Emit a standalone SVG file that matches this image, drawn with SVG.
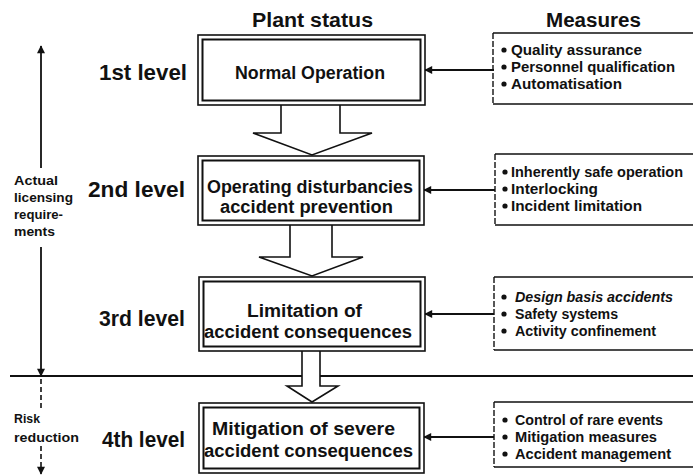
<svg xmlns="http://www.w3.org/2000/svg" width="693" height="476" viewBox="0 0 693 476">
<defs>
<style>
text{font-family:"Liberation Sans",Arial,sans-serif;font-weight:bold;fill:#111}
.hd{font-size:20px}
.lv{font-size:22px}
.bx{font-size:17.5px}
.ms{font-size:14px}
.lf{font-size:13.5px}
.outer{fill:#fff;stroke:#111;stroke-width:1.6}
.inner{fill:none;stroke:#111;stroke-width:2}
.mbox{fill:none;stroke:#111;stroke-width:1.6}
.mleft{stroke:#111;stroke-width:1.4;stroke-dasharray:6 2}
.blk{fill:#fff;stroke:#111;stroke-width:1.6;stroke-linejoin:miter}
.ln{stroke:#111;stroke-width:1.8;fill:none}
.dash{stroke:#111;stroke-width:1.6;stroke-dasharray:5 3;fill:none}
.bul{fill:#111}
</style>
<marker id="ah" viewBox="0 0 10 10" refX="9" refY="5" markerWidth="9" markerHeight="8" markerUnits="userSpaceOnUse" orient="auto">
<path d="M0,0 L10,5 L0,10 Z" fill="#111"/>
</marker>
</defs>
<rect width="693" height="476" fill="#fff"/>

<g id="headers">
<text class="hd" x="252" y="27" textLength="121" lengthAdjust="spacingAndGlyphs">Plant status</text>
<text class="hd" x="546" y="27" textLength="95" lengthAdjust="spacingAndGlyphs">Measures</text>
</g>

<g id="levels">
<text class="lv" x="99" y="80" textLength="88" lengthAdjust="spacingAndGlyphs">1st level</text>
<text class="lv" x="88" y="197" textLength="97" lengthAdjust="spacingAndGlyphs">2nd level</text>
<text class="lv" x="99" y="326" textLength="86" lengthAdjust="spacingAndGlyphs">3rd level</text>
<text class="lv" x="102" y="447" textLength="83" lengthAdjust="spacingAndGlyphs">4th level</text>
</g>

<g id="connectors">
<line class="ln" x1="10" y1="376" x2="693" y2="376"/>
<!-- left vertical axis -->
<line class="ln" x1="41" y1="168" x2="41" y2="46" marker-end="url(#ah)"/>
<line class="ln" x1="41" y1="247" x2="41" y2="376" marker-end="url(#ah)"/>
<line class="dash" x1="41" y1="379" x2="41" y2="410"/>
<line class="dash" x1="41" y1="446" x2="41" y2="474" marker-end="url(#ah)"/>
<!-- measures to plant arrows -->
<line class="ln" x1="494" y1="70" x2="425" y2="70" marker-end="url(#ah)"/>
<line class="ln" x1="495" y1="190" x2="424" y2="190" marker-end="url(#ah)"/>
<line class="ln" x1="494" y1="314" x2="425" y2="314" marker-end="url(#ah)"/>
<line class="ln" x1="494" y1="437" x2="424" y2="437" marker-end="url(#ah)"/>
<!-- block arrows -->
<path class="blk" d="M281,105 V133 H253 L312,155 L372,133 H340 V105"/>
<path class="blk" d="M290,225 V257 H259 L312,276 L363,257 H332 V225"/>
<path class="blk" d="M302,351 V386 H287 L312,402 L338,386 H320 V351"/>
</g>

<g id="axis-labels">
<text class="lf" x="14" y="185" textLength="44" lengthAdjust="spacingAndGlyphs">Actual</text>
<text class="lf" x="14" y="202" textLength="59" lengthAdjust="spacingAndGlyphs">licensing</text>
<text class="lf" x="14" y="219" textLength="49" lengthAdjust="spacingAndGlyphs">require-</text>
<text class="lf" x="14" y="236" textLength="41" lengthAdjust="spacingAndGlyphs">ments</text>
<text class="lf" x="14" y="423" textLength="26" lengthAdjust="spacingAndGlyphs">Risk</text>
<text class="lf" x="14" y="442" textLength="65" lengthAdjust="spacingAndGlyphs">reduction</text>
</g>

<g id="plant1">
<rect class="outer" x="198" y="35" width="227" height="70"/>
<rect class="inner" x="202.5" y="39.5" width="218" height="61"/>
<text class="bx" x="235" y="79" textLength="150" lengthAdjust="spacingAndGlyphs">Normal Operation</text>
</g>
<g id="plant2">
<rect class="outer" x="198" y="156" width="226" height="69"/>
<rect class="inner" x="202.5" y="160.5" width="217" height="60"/>
<text class="bx" x="207" y="193" textLength="206" lengthAdjust="spacingAndGlyphs">Operating disturbancies</text>
<text class="bx" x="220" y="213" textLength="173" lengthAdjust="spacingAndGlyphs">accident prevention</text>
</g>
<g id="plant3">
<rect class="outer" x="199" y="277" width="226" height="74"/>
<rect class="inner" x="203.5" y="281.5" width="217" height="65"/>
<text class="bx" x="247" y="317" textLength="115" lengthAdjust="spacingAndGlyphs">Limitation of</text>
<text class="bx" x="204" y="338" textLength="208" lengthAdjust="spacingAndGlyphs">accident consequences</text>
</g>
<g id="plant4">
<rect class="outer" x="199" y="403" width="225" height="70"/>
<rect class="inner" x="203.5" y="407.5" width="216" height="61"/>
<text class="bx" x="212" y="435" textLength="183" lengthAdjust="spacingAndGlyphs">Mitigation of severe</text>
<text class="bx" x="204" y="457" textLength="209" lengthAdjust="spacingAndGlyphs">accident consequences</text>
</g>

<g id="measures1">
<path class="mbox" d="M493,33 H700 M493,104 H700"/>
<line class="mleft" x1="493" y1="33" x2="493" y2="104"/>
<circle class="bul" cx="504" cy="50" r="2.6"/>
<circle class="bul" cx="504" cy="67" r="2.6"/>
<circle class="bul" cx="504" cy="84" r="2.6"/>
<text class="ms" x="511" y="55" textLength="131" lengthAdjust="spacingAndGlyphs">Quality assurance</text>
<text class="ms" x="511" y="72" textLength="164" lengthAdjust="spacingAndGlyphs">Personnel qualification</text>
<text class="ms" x="511" y="89" textLength="111" lengthAdjust="spacingAndGlyphs">Automatisation</text>
</g>
<g id="measures2">
<path class="mbox" d="M495,154 H700 M495,225 H700"/>
<line class="mleft" x1="495" y1="154" x2="495" y2="225"/>
<circle class="bul" cx="505" cy="172" r="2.6"/>
<circle class="bul" cx="505" cy="189" r="2.6"/>
<circle class="bul" cx="505" cy="206" r="2.6"/>
<text class="ms" x="511" y="177" textLength="172" lengthAdjust="spacingAndGlyphs">Inherently safe operation</text>
<text class="ms" x="511" y="194" textLength="87" lengthAdjust="spacingAndGlyphs">Interlocking</text>
<text class="ms" x="511" y="211" textLength="131" lengthAdjust="spacingAndGlyphs">Incident limitation</text>
</g>
<g id="measures3">
<path class="mbox" d="M494,277 H700 M494,350 H700"/>
<line class="mleft" x1="494" y1="277" x2="494" y2="350"/>
<circle class="bul" cx="504" cy="297" r="2.6"/>
<circle class="bul" cx="504" cy="314" r="2.6"/>
<circle class="bul" cx="504" cy="331" r="2.6"/>
<text class="ms" x="515" y="302" font-style="italic" textLength="158" lengthAdjust="spacingAndGlyphs">Design basis accidents</text>
<text class="ms" x="515" y="319" textLength="103" lengthAdjust="spacingAndGlyphs">Safety systems</text>
<text class="ms" x="515" y="336" textLength="141" lengthAdjust="spacingAndGlyphs">Activity confinement</text>
</g>
<g id="measures4">
<path class="mbox" d="M494,402 H700 M494,467 H700"/>
<line class="mleft" x1="494" y1="402" x2="494" y2="467"/>
<circle class="bul" cx="505" cy="420" r="2.6"/>
<circle class="bul" cx="505" cy="437" r="2.6"/>
<circle class="bul" cx="505" cy="454" r="2.6"/>
<text class="ms" x="515" y="425" textLength="148" lengthAdjust="spacingAndGlyphs">Control of rare events</text>
<text class="ms" x="515" y="442" textLength="142" lengthAdjust="spacingAndGlyphs">Mitigation measures</text>
<text class="ms" x="515" y="459" textLength="156" lengthAdjust="spacingAndGlyphs">Accident management</text>
</g>
</svg>
